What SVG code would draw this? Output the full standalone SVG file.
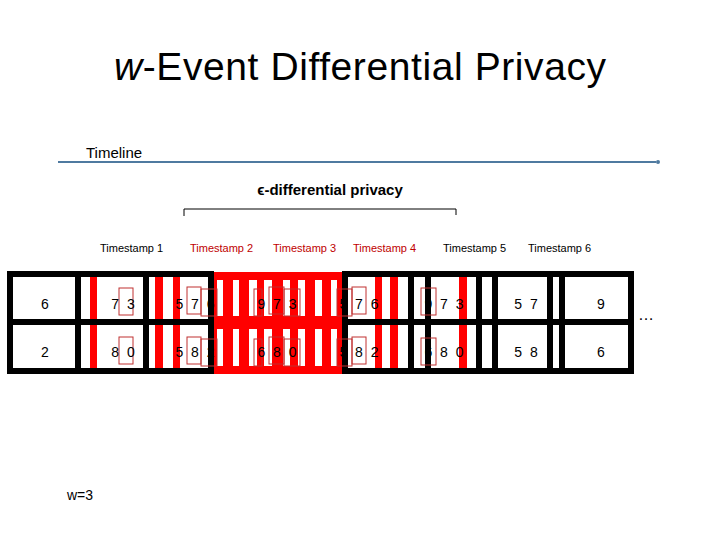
<svg xmlns="http://www.w3.org/2000/svg" width="720" height="540" viewBox="0 0 720 540">
<style>
text{font-family:"Liberation Sans",Arial,sans-serif}
.ts{font-size:11px}
.red{fill:#c00000}
.num{font-size:14px;text-anchor:middle;white-space:pre}
.blk{fill:none;stroke:#000;stroke-width:6}
.rb{fill:none;stroke:#c03030;stroke-width:1}
</style>
<rect width="720" height="540" fill="#fff"/>
<text x="360" y="80" font-size="39" text-anchor="middle" font-family="Open Sans,Liberation Sans,sans-serif" textLength="492"><tspan font-style="italic">w</tspan>-Event Differential Privacy</text>
<text x="86" y="158" font-size="15">Timeline</text>
<g id="connectors">
<line x1="58" y1="162" x2="656" y2="162" stroke="#4f7aa0" stroke-width="2"/>
<circle cx="658" cy="162" r="2" fill="#4f7aa0"/>
<path d="M184 216 V209 H456 V215" fill="none" stroke="#000" stroke-width="1"/>
</g>
<text x="330" y="195" font-size="15" text-anchor="middle" font-weight="bold">ϵ-differential privacy</text>
<text class="ts" x="100" y="252">Timestamp 1</text>
<text class="ts red" x="190" y="252">Timestamp 2</text>
<text class="ts red" x="273" y="252">Timestamp 3</text>
<text class="ts red" x="353" y="252">Timestamp 4</text>
<text class="ts" x="443" y="252">Timestamp 5</text>
<text class="ts" x="528" y="252">Timestamp 6</text>
<rect x="211" y="272" width="134" height="102" fill="#ff0000"/>
<g fill="#fff">
<rect x="217" y="280" width="6" height="36"/><rect x="217" y="329" width="6" height="37"/>
<rect x="233" y="280" width="6" height="36"/><rect x="233" y="329" width="6" height="37"/>
<rect x="249" y="280" width="8" height="36"/><rect x="249" y="329" width="8" height="37"/>
<rect x="264" y="280" width="8" height="36"/><rect x="264" y="329" width="8" height="37"/>
<rect x="283" y="280" width="7" height="36"/><rect x="283" y="329" width="7" height="37"/>
<rect x="298" y="280" width="7" height="36"/><rect x="298" y="329" width="7" height="37"/>
<rect x="315" y="280" width="7" height="36"/><rect x="315" y="329" width="7" height="37"/>
<rect x="331" y="280" width="6" height="36"/><rect x="331" y="329" width="6" height="37"/>
</g>
<g fill="#ff0000">
<rect x="90" y="275" width="7" height="95"/>
<rect x="155" y="275" width="8" height="95"/>
<rect x="173" y="275" width="7" height="95"/>
<rect x="375" y="275" width="7" height="95"/>
<rect x="390" y="275" width="8" height="95"/>
<rect x="459" y="275" width="8" height="95"/>
</g>
<g id="frameA">
<rect class="blk" x="10" y="274" width="201" height="97"/>
<line class="blk" x1="10" y1="322" x2="211" y2="322"/>
<line class="blk" x1="78" y1="274" x2="78" y2="371"/>
<line class="blk" x1="146" y1="274" x2="146" y2="371"/>
</g>
<g id="frameB">
<rect class="blk" x="345" y="274" width="286" height="97"/>
<line class="blk" x1="345" y1="322" x2="631" y2="322"/>
<line class="blk" x1="411" y1="274" x2="411" y2="371"/>
<line class="blk" x1="428" y1="274" x2="428" y2="371"/>
<line class="blk" x1="479" y1="274" x2="479" y2="371"/>
<line class="blk" x1="495" y1="274" x2="495" y2="371"/>
<line class="blk" x1="550" y1="274" x2="550" y2="371"/>
<line class="blk" x1="562" y1="274" x2="562" y2="371"/>
</g>
<g class="rb">
<rect x="119" y="288" width="14" height="27"/><rect x="119" y="337" width="14" height="27"/>
<rect x="187" y="287" width="14" height="27"/><rect x="187" y="337" width="14" height="27"/>
<rect x="201" y="289" width="16" height="27"/><rect x="201" y="339" width="16" height="27"/>
<rect x="254" y="289" width="8" height="27"/><rect x="254" y="339" width="8" height="27"/>
<rect x="269" y="287" width="15" height="27"/><rect x="269" y="337" width="15" height="27"/>
<rect x="284" y="289" width="16" height="27"/><rect x="284" y="339" width="16" height="27"/>
<rect x="337" y="289" width="15" height="27"/><rect x="337" y="339" width="15" height="27"/>
<rect x="352" y="287" width="14" height="27"/><rect x="352" y="337" width="14" height="27"/>
<rect x="421" y="288" width="15" height="27"/><rect x="421" y="338" width="15" height="27"/>
</g>
<g id="row1">
<text class="num" x="45" y="309">6</text>
<text class="num" x="123" y="309">7  3</text>
<text class="num" x="195" y="309">5  7  6</text>
<text class="num" x="277" y="309">9  7  3</text>
<text class="num" x="359" y="309">5  7  6</text>
<text class="num" x="444" y="309">9  7  3</text>
<text class="num" x="526" y="309">5  7</text>
<text class="num" x="601" y="309">9</text>
</g>
<g id="row2">
<text class="num" x="45" y="357">2</text>
<text class="num" x="123" y="357">8  0</text>
<text class="num" x="195" y="357">5  8  2</text>
<text class="num" x="277" y="357">6  8  0</text>
<text class="num" x="359" y="357">5  8  2</text>
<text class="num" x="444" y="357">6  8  0</text>
<text class="num" x="526" y="357">5  8</text>
<text class="num" x="601" y="357">6</text>
</g>
<text x="646" y="320" font-size="16" text-anchor="middle">…</text>
<text x="67" y="500" font-size="14">w=3</text>
</svg>
